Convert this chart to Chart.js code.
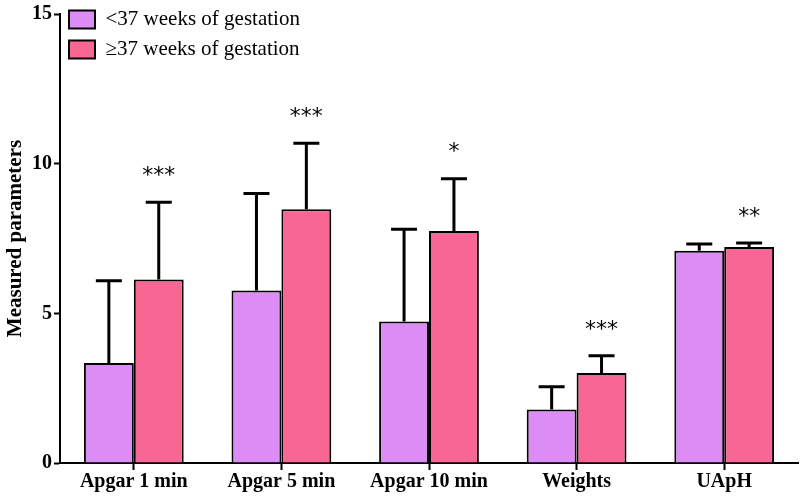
<!DOCTYPE html>
<html>
<head>
<meta charset="utf-8">
<script src="https://cdn.jsdelivr.net/npm/chart.js@4/dist/chart.umd.min.js"></script>
<style>
  html, body { margin: 0; padding: 0; background: #fff; }
  #wrap { width: 800px; height: 496px; }
</style>
</head>
<body>
<div id="wrap"><canvas id="chart"></canvas></div>
<script>
// Data
const categories = ['Apgar 1 min', 'Apgar 5 min', 'Apgar 10 min', 'Weights', 'UApH'];
const pretermMeans = [3.34, 5.76, 4.73, 1.79, 7.09];
const pretermSD = [2.75, 3.24, 3.08, 0.76, 0.23];
const termMeans = [6.13, 8.48, 7.75, 3.01, 7.22];
const termSD = [2.58, 2.2, 1.75, 0.57, 0.13];
const significance = ['***', '***', '*', '***', '**'];
const yTicks = [0, 5, 10, 15];

const PURPLE = '#DD8CF5';
const PINK = '#F86694';
const SERIF = '"Liberation Serif", "Times New Roman", serif';

// Error bars + stars
const errorBarPlugin = {
    id: 'errorBars',
    afterDatasetsDraw(chart) {
        const ctx = chart.ctx;
        const y = chart.scales.y;
        const sds = [pretermSD, termSD];
        let tops = [];
        ctx.save();
        ctx.strokeStyle = '#000';
        chart.data.datasets.forEach((ds, di) => {
            const meta = chart.getDatasetMeta(di);
            meta.data.forEach((bar, i) => {
                const top = y.getPixelForValue(ds.data[i] + sds[di][i]);
                const base = y.getPixelForValue(ds.data[i]);
                ctx.lineWidth = 3;
                ctx.beginPath();
                ctx.moveTo(bar.x, base);
                ctx.lineTo(bar.x, top);
                ctx.moveTo(bar.x - 13, top);
                ctx.lineTo(bar.x + 13, top);
                ctx.stroke();
                if (di === 1) tops[i] = { x: bar.x, y: top };
            });
        });
        // significance stars over the second bar
        ctx.fillStyle = '#000';
        ctx.font = '22px "DejaVu Sans", sans-serif';
        ctx.textAlign = 'center';
        ctx.textBaseline = 'middle';
        tops.forEach((t, i) => {
            const n = significance[i].length;
            for (let k = 0; k < n; k++) {
                const sx = t.x + (k - (n - 1) / 2) * 11;
                ctx.fillText('*', sx, t.y - 26);
            }
        });
        ctx.restore();
    }
};

const ctx = document.getElementById('chart').getContext('2d');
const chart = new Chart(ctx, {
    type: 'bar',
    data: {
        labels: categories,
        datasets: [
            {
                label: '<37 weeks of gestation',
                data: pretermMeans,
                backgroundColor: PURPLE,
                borderColor: '#000',
                borderWidth: 2,
                borderSkipped: 'bottom'
            },
            {
                label: '\u226537 weeks of gestation',
                data: termMeans,
                backgroundColor: PINK,
                borderColor: '#000',
                borderWidth: 2,
                borderSkipped: 'bottom'
            }
        ]
    },
    options: {
        responsive: true,
        maintainAspectRatio: false,
        animation: false,
        layout: { padding: { top: 10, right: 2, left: 0, bottom: 0 } },
        datasets: {
            bar: { categoryPercentage: 0.676, barPercentage: 1.0 }
        },
        plugins: {
            legend: {
                position: 'chartArea',
                align: 'start',
                labels: {
                    color: '#000',
                    font: { family: SERIF, size: 21 },
                    boxWidth: 26,
                    boxHeight: 18,
                    padding: 9,
                    generateLabels(chart) {
                        return chart.data.datasets.map((ds, i) => ({
                            text: ds.label,
                            fillStyle: ds.backgroundColor,
                            strokeStyle: '#000',
                            lineWidth: 2,
                            datasetIndex: i,
                            fontColor: '#000'
                        }));
                    }
                }
            },
            tooltip: { enabled: false }
        },
        scales: {
            x: {
                grid: {
                    offset: false,
                    drawOnChartArea: false,
                    drawTicks: true,
                    tickLength: 7,
                    tickWidth: 2,
                    color: '#000'
                },
                border: { color: '#000', width: 2 },
                ticks: {
                    color: '#000',
                    font: { family: SERIF, size: 20, weight: 'bold' },
                    padding: 0,
                    maxRotation: 0
                },
                afterFit(scale) { scale.height = 33; }
            },
            y: {
                min: 0,
                max: 15,
                afterBuildTicks(scale) {
                    scale.ticks = yTicks.map(v => ({ value: v }));
                },
                grid: {
                    drawOnChartArea: false,
                    drawTicks: true,
                    tickLength: 6,
                    tickWidth: 2,
                    color: '#000'
                },
                border: { color: '#000', width: 2 },
                ticks: {
                    color: '#000',
                    font: { family: SERIF, size: 20, weight: 'bold' },
                    padding: 2
                },
                title: {
                    display: true,
                    text: 'Measured parameters',
                    color: '#000',
                    font: { family: SERIF, size: 21, weight: 'bold' },
                    padding: { top: 3, bottom: 0 }
                },
                afterFit(scale) { scale.width = 60; }
            }
        }
    },
    plugins: [errorBarPlugin]
});
</script>
</body>
</html>
